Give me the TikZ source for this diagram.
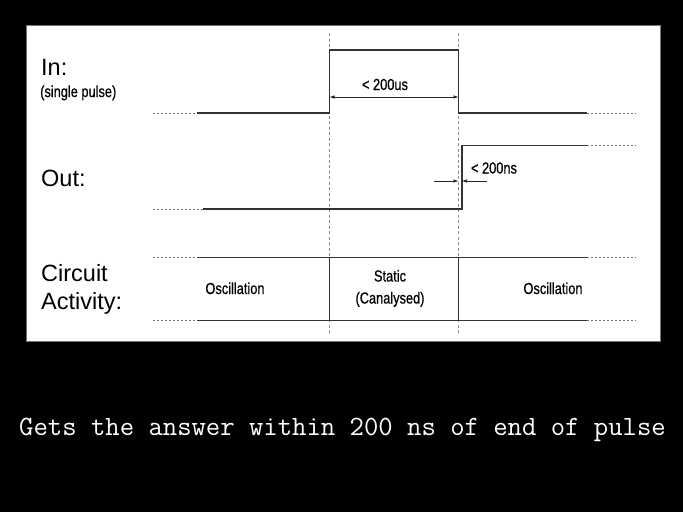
\documentclass[tikz,border=0pt]{standalone}
\usepackage{fontspec}
\setmainfont{Liberation Sans}
\newfontfamily\condensed[FakeStretch=0.8, FakeBold=0.6]{Liberation Sans}
\usetikzlibrary{arrows.meta}

\begin{document}
\begin{tikzpicture}[x=1pt,y=-1pt,
  trace/.style={draw=black!80, line width=1.1pt},
  lead/.style={draw=black!55, line width=1pt, dash pattern=on 2pt off 2pt},
  marker/.style={draw=black!45, line width=0.6pt, dash pattern=on 3pt off 2.5pt},
  dim/.style={draw=black!85, line width=0.6pt, -{Latex[length=5pt,width=3.5pt]}},
  siglabel/.style={font=\fontsize{23.5}{26}\selectfont, anchor=base west, inner sep=0pt},
  note/.style={font=\condensed\fontsize{16}{18}\selectfont, anchor=base, inner sep=0pt},
]
% page and white panel
\fill[black] (0,0) rectangle (683,512);
\filldraw[fill=white, draw=black!55, line width=0.6pt] (26,25) rectangle (660,341);
\useasboundingbox (0,0) rectangle (683,512);

% time markers
\coordinate (t1) at (329.5,0);
\coordinate (t2) at (458.5,0);
\draw[marker] (t1 |- 0,33) -- (t1 |- 0,335);
\draw[marker] (t2 |- 0,33) -- (t2 |- 0,335);

% row labels
\node[siglabel] (lin) at (41,75) {In:};
\node[siglabel, font=\condensed\fontsize{16}{18}\selectfont] (lpulse) at (40,97) {(single pulse)};
\node[siglabel] (lout) at (41,186.5) {Out:};
\node[siglabel] (lcirc) at (41,281.5) {Circuit};
\node[siglabel] (lact) at (41,309) {Activity:};

% input pulse
\draw[lead] (153,113) -- (197,113);
\draw[trace] (197,113) -- (t1 |- 0,113) -- (t1 |- 0,50) -- (t2 |- 0,50) -- (t2 |- 0,113) -- (587,113);
\draw[lead] (587,113) -- (636,113);
\coordinate (w1) at (329.5,97);
\coordinate (w2) at (458.5,97);
\draw[dim, {Latex[length=5pt,width=3.5pt]}-{Latex[length=5pt,width=3.5pt]}] (w1) -- (w2);
\node[note] (pw) at (385,90) {< 200us};

% output edge
\draw[lead] (153,209) -- (203,209);
\draw[trace] (203,209) -- (462,209) -- (462,145.5) -- (587,145.5);
\draw[lead] (587,145.5) -- (636,145.5);
\coordinate (d1) at (434,181);
\coordinate (d2) at (487,181);
\draw[dim] (d1) -- (t2 |- d1);
\draw[dim] (d2) -- (462,181);
\node[note] (dl) at (494,173.5) {< 200ns};

% circuit activity band
\draw[lead] (153,257.5) -- (197,257.5);
\draw[lead] (153,320.5) -- (197,320.5);
\draw[trace] (197,257.5) -- (587,257.5);
\draw[trace] (197,320.5) -- (587,320.5);
\draw[lead] (587,257.5) -- (636,257.5);
\draw[lead] (587,320.5) -- (636,320.5);
\draw[trace] (t1 |- 0,257.5) -- (t1 |- 0,320.5);
\draw[trace] (t2 |- 0,257.5) -- (t2 |- 0,320.5);
\node[note] (osc1) at (235,294) {Oscillation};
\node[note] (st) at (390,281.5) {Static};
\node[note] (can) at (390,303.5) {(Canalysed)};
\node[note] (osc2) at (553,294) {Oscillation};

% caption
\node[anchor=base west, inner sep=0pt, text=white, font=\ttfamily\addfontfeatures{FakeBold=1.8}\fontsize{27.9}{30}\selectfont] (cap) at (19,435) {Gets the answer within 200 ns of end of pulse};
\end{tikzpicture}
\end{document}
